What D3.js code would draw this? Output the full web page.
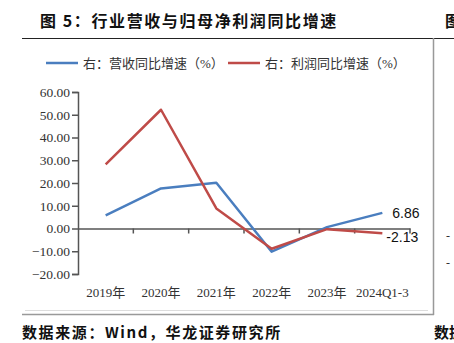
<!DOCTYPE html>
<html><head><meta charset="utf-8">
<script src="https://cdn.jsdelivr.net/npm/d3@7"></script>
<style>body{margin:0;background:#fff}svg{display:block}</style>
</head><body>
<svg id="c" width="454" height="343"></svg>
<script>
const categories = ["2019年","2020年","2021年","2022年","2023年","2024Q1-3"];
const revenueGrowth = [5.8, 17.6, 20.1, -10.2, 0.6, 6.86];
const profitGrowth = [28.2, 52.2, 8.8, -8.9, -0.3, -2.13];
const yTicks = [60, 50, 40, 30, 20, 10, 0, -10, -20];
const seriesNames = ["右：营收同比增速（%）", "右：利润同比增速（%）"];
const colors = ["#4a7ebf", "#bf4b48"];

const svg = d3.select("#c");
const serif = "'Liberation Serif','Noto Sans CJK SC',serif";
const cjk = "'Noto Sans CJK SC',sans-serif";

// Title
svg.append("text").attr("x", 40).attr("y", 27).attr("font-family", cjk).attr("font-weight", "bold")
  .attr("font-size", 16).attr("letter-spacing", 1.6).attr("fill", "#111").text("图 5：行业营收与归母净利润同比增速");
svg.append("text").attr("x", 445).attr("y", 27).attr("font-family", cjk).attr("font-weight", "bold")
  .attr("font-size", 16).attr("fill", "#111").text("图");
svg.append("line").attr("x1", 22).attr("x2", 454).attr("y1", 38.5).attr("y2", 38.5).attr("stroke", "#222").attr("stroke-width", 1);
svg.append("line").attr("x1", 433.5).attr("x2", 433.5).attr("y1", 38).attr("y2", 315).attr("stroke", "#999").attr("stroke-width", 1.5);
svg.append("line").attr("x1", 25).attr("x2", 428).attr("y1", 310.5).attr("y2", 310.5).attr("stroke", "#ddd").attr("stroke-width", 1);
svg.append("line").attr("x1", 22).attr("x2", 434).attr("y1", 314.5).attr("y2", 314.5).attr("stroke", "#999").attr("stroke-width", 1.5);

// Footer
svg.append("text").attr("x", 22).attr("y", 338).attr("font-family", cjk).attr("font-weight", "bold")
  .attr("font-size", 15).attr("letter-spacing", 1.6).attr("fill", "#111").text("数据来源：Wind，华龙证券研究所");
svg.append("text").attr("x", 434).attr("y", 338).attr("font-family", cjk).attr("font-weight", "bold")
  .attr("font-size", 15).attr("fill", "#111").text("数据");
// partial neighbouring axis marks
[236, 263].forEach(y => svg.append("text").attr("x", 446).attr("y", y + 4).attr("font-family", serif)
  .attr("font-size", 12).attr("fill", "#333").text("-"));

// Legend
const legX = [46, 228];
seriesNames.forEach((n, i) => {
  svg.append("line").attr("x1", legX[i]).attr("x2", legX[i] + 32).attr("y1", 63).attr("y2", 63)
    .attr("stroke", colors[i]).attr("stroke-width", 2.5);
  svg.append("text").attr("x", legX[i] + 37).attr("y", 67.5).attr("font-family", serif)
    .attr("font-size", 13).attr("fill", "#333").text(n);
});

// Scales
const x = d3.scaleBand().domain(categories).range([78, 410]);
const y = d3.scaleLinear().domain([-20, 60]).range([274, 92]);

// Y axis
const yAxis = svg.append("g").attr("transform", "translate(78,0)")
  .call(d3.axisLeft(y).tickValues(yTicks).tickFormat(d3.format(".2f")).tickSizeOuter(0).tickSize(6));
yAxis.select(".domain").attr("stroke", "#555").attr("stroke-width", 1.5);
yAxis.selectAll(".tick line").attr("stroke", "#555").attr("stroke-width", 1.5);
yAxis.selectAll("text").attr("font-family", serif).attr("font-size", 13.5).attr("fill", "#333").attr("x", -8);

// X axis at zero
const xAxis = svg.append("g").attr("transform", `translate(0,${y(0)})`)
  .call(d3.axisBottom(x).tickSize(0).tickSizeOuter(0).tickFormat(""));
xAxis.select(".domain").attr("stroke", "#555").attr("stroke-width", 1.5);
const bounds = categories.slice(1).map(c => x(c)).concat([x.range()[1]]);
svg.append("g").selectAll("line").data(bounds).join("line")
  .attr("x1", d => d).attr("x2", d => d).attr("y1", y(0)).attr("y2", y(0) + 5)
  .attr("stroke", "#555").attr("stroke-width", 1.5);

// X labels
svg.append("g").selectAll("text").data(categories).join("text")
  .attr("x", d => x(d) + x.bandwidth() / 2).attr("y", 297).attr("text-anchor", "middle")
  .attr("font-family", serif).attr("font-size", 13).attr("fill", "#333").text(d => d);

// Lines
const line = d3.line().x((d, i) => x(categories[i]) + x.bandwidth() / 2).y(d => y(d));
[revenueGrowth, profitGrowth].forEach((s, i) => {
  svg.append("path").datum(s).attr("d", line).attr("fill", "none")
    .attr("stroke", colors[i]).attr("stroke-width", 2.5).attr("stroke-linejoin", "round");
});

// End labels
const last = categories.length - 1;
const lx = x(categories[last]) + x.bandwidth() / 2;
svg.append("text").attr("x", lx + 10).attr("y", y(revenueGrowth[last]) + 5)
  .attr("font-family", "'Liberation Sans',Arial,sans-serif").attr("font-size", 14).attr("fill", "#111")
  .text(revenueGrowth[last].toFixed(2));
svg.append("text").attr("x", lx + 4).attr("y", y(profitGrowth[last]) + 9)
  .attr("font-family", "'Liberation Sans',Arial,sans-serif").attr("font-size", 14).attr("fill", "#111")
  .text(profitGrowth[last].toFixed(2));
</script>
</body></html>
